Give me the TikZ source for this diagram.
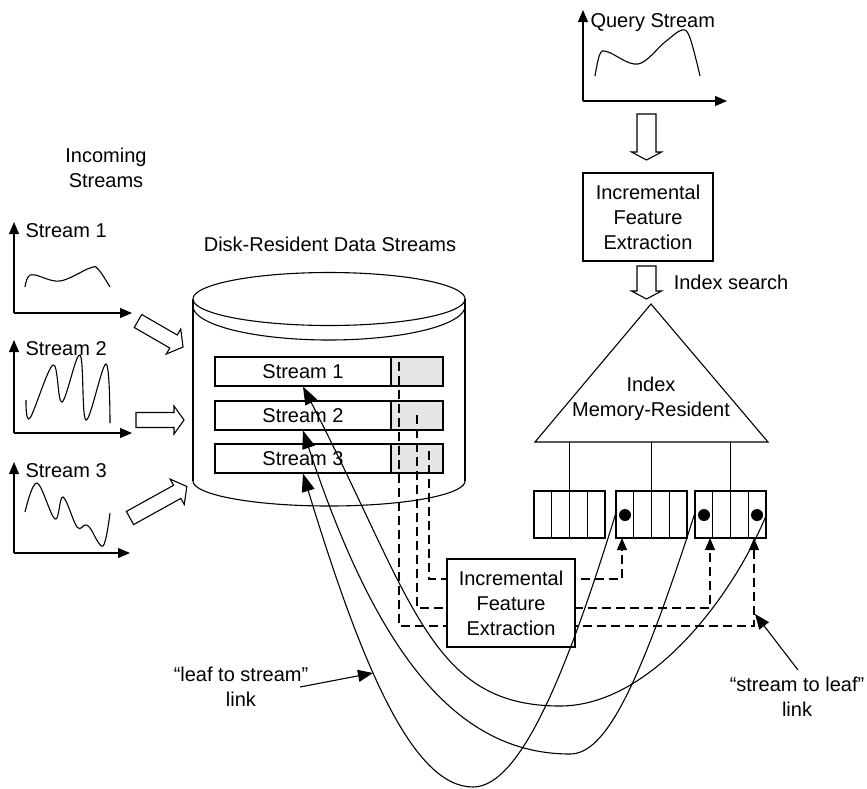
\documentclass[tikz,border=0pt]{standalone}
\usepackage{fontspec}
\setmainfont{Liberation Sans}
\usetikzlibrary{arrows.meta,calc}
\definecolor{cellgray}{HTML}{E6E6E6}
% hollow block arrow: tail point, angle, length, half shaft width, half head width, head length
\newcommand\hollowarrow[6]{%
  \draw[shift={#1}, rotate=#2]
    (0,-#4) -- ({#3-#6},-#4) -- ({#3-#6},-#5) -- (#3,0)
    -- ({#3-#6},#5) -- ({#3-#6},#4) -- (0,#4) -- cycle;}
\begin{document}
\begin{tikzpicture}[x=1pt, y=-1pt, line width=1.1pt,
  font=\fontsize{20}{25}\selectfont,
  every node/.style={inner sep=0pt},
  axisarrow/.style={-{Triangle[length=12pt,width=10pt]}},
  linkarrow/.style={-{Triangle[length=18pt,width=13pt]}},
  labelarrow/.style={-{Triangle[length=15pt,width=12pt]}},
  dasharrow/.style={dash pattern=on 9pt off 5pt, -{Triangle[length=12pt,width=10pt]}},
  streambox/.style={draw, minimum width=176pt, minimum height=29pt},
  graycell/.style={draw, fill=cellgray, minimum width=52pt, minimum height=29pt},
  leafbox/.style={draw, minimum width=71pt, minimum height=47pt},
  leafdot/.style={circle, fill, minimum size=12pt},
  featurebox/.style={draw, fill=white, align=center, minimum height=88pt},
  label/.style={align=center}]
\useasboundingbox (0,0) rectangle (867,788);

% ---------- incoming streams ----------
\coordinate (o1) at (14,313);
\draw[axisarrow] (o1) -- (14,222);
\draw[axisarrow] (o1) -- (132,313);
\node[anchor=base west] (lab1) at (25,237) {Stream 1};
\draw plot[smooth, tension=0.6] coordinates {(25,287) (28,277) (35,275) (60,281) (90,268) (98,269) (110,287)};

\coordinate (o2) at (14,433);
\draw[axisarrow] (o2) -- (14,340);
\draw[axisarrow] (o2) -- (132,433);
\node[anchor=base west] (lab2) at (25,355) {Stream 2};
\draw plot[smooth, tension=0.6] coordinates {(26,400) (30,418) (53,365) (62,402) (80,355) (86,420) (106,364) (110,423)};

\coordinate (o3) at (14,553);
\draw[axisarrow] (o3) -- (14,462);
\draw[axisarrow] (o3) -- (130,553);
\node[anchor=base west] (lab3) at (25,477) {Stream 3};
\draw plot[smooth, tension=0.6] coordinates {(25,512) (37,483) (55,519) (63,497) (77,527) (85,525) (90,528) (103,546) (110,513)};

\node[label] (incoming) at (106,168) {Incoming\\Streams};

% block arrows into the disk
\hollowarrow{(138,321)}{-30}{52}{7.5}{14.5}{11}
\hollowarrow{(136,420)}{0}{48}{7.5}{14}{10}
\hollowarrow{(130,518)}{29}{65}{7.5}{14.5}{11}

% ---------- disk ----------
\node (disklab) at (330,244) {Disk-Resident Data Streams};
\draw (193,299) -- (193,481);
\draw (465,299) -- (465,481);
\draw plot[domain=0:360, samples=120, smooth] ({329+136*cos(\x)}, {299+26.5*sin(\x)}) -- cycle;
\draw plot[domain=0:180, samples=60, smooth] ({329+136*cos(\x)}, {306+34*sin(\x)});
\draw plot[domain=0:180, samples=60, smooth] ({329+136*cos(\x)}, {481+25*sin(\x)});

\node[streambox] (s1) at (303,371.5) {Stream 1};
\node[graycell]  (g1) at (417,371.5) {};
\node[streambox] (s2) at (303,415.5) {Stream 2};
\node[graycell]  (g2) at (417,415.5) {};
\node[streambox] (s3) at (303,458.5) {Stream 3};
\node[graycell]  (g3) at (417,458.5) {};

% ---------- query side ----------
\coordinate (oq) at (583,101);
\draw[axisarrow] (oq) -- (583,10);
\draw[axisarrow] (oq) -- (727,101);
\node[anchor=base west] (qlab) at (590,27) {Query Stream};
\draw plot[smooth, tension=0.6] coordinates {(595,76) (600,54) (608,52) (638,64) (665,42) (682,30) (690,38) (700,76)};

\hollowarrow{(646.5,114)}{-90}{46}{9.5}{15}{8}
\node[featurebox, minimum width=130pt] (fq) at (648,217) {Incremental\\Feature\\Extraction};
\hollowarrow{(646.5,266)}{-90}{33}{9.5}{15}{8}
\node (search) at (731,282) {Index search};

% ---------- index ----------
\coordinate (apex) at (651,304);
\coordinate (bl) at (535,442);
\coordinate (br) at (768,442);
\draw (apex) -- (bl) -- (br) -- cycle;
\node[label] (idx) at (651,399) {Index\\Memory-Resident};

\node[leafbox] (leafA) at (569.5,514.5) {};
\node[leafbox] (leafB) at (651.5,514.5) {};
\node[leafbox] (leafC) at (730.5,514.5) {};
\foreach \b in {leafA,leafB,leafC}{
  \foreach \k in {1,2,3}
    \draw ($(\b.north west)!{\k/4}!(\b.north east)$) -- ($(\b.south west)!{\k/4}!(\b.south east)$);
  \draw (\b.north) -- (\b.north |- bl);
}
\node[leafdot] (dB)  at (625,515) {};
\node[leafdot] (dC1) at (704,515) {};
\node[leafdot] (dC2) at (757,515) {};

% ---------- stream to leaf (dashed) ----------
\coordinate (src1) at (399,362);
\coordinate (src2) at (417,415);
\coordinate (src3) at (429,451);
\coordinate (in1) at (754,538);
\coordinate (in2) at (710,538);
\coordinate (in3) at (622,538);
\draw[dasharrow] (src1) -- (399,626) -| (in1);
\draw[dasharrow] (src2) -- (417,608) -| (in2);
\draw[dasharrow] (src3) -- (429,579) -| (in3);

\node[featurebox, minimum width=128pt] (fl) at (511,603) {Incremental\\Feature\\Extraction};

% ---------- leaf to stream (solid) ----------
\coordinate (b1) at (473,787);
\coordinate (b2) at (570,754);
\coordinate (b3) at (560,706);
\draw[linkarrow] (leafB.west) .. controls (571,658) and (523,787) .. (b1)
  .. controls (413,787) and (362,667) .. (s3.south);
\draw[linkarrow] (leafC.west) .. controls (638,690) and (605,754) .. (b2)
  .. controls (455,754) and (376,651) .. (s2.south);
\draw[linkarrow] (leafC.east) .. controls (732,598) and (650,706) .. (b3)
  .. controls (430,706) and (414,602) .. (s1.south);

% ---------- annotations ----------
\node[label] (lts) at (241,687) {“leaf to stream”\\link};
\coordinate (ltsfrom) at (300,687);
\coordinate (ltsto) at (373,673);
\draw[labelarrow] (ltsfrom) -- (ltsto);

\node[label] (stl) at (797,697) {“stream to leaf”\\link};
\coordinate (stlfrom) at (798,670);
\coordinate (stlto) at (755,614);
\draw[labelarrow] (stlfrom) -- (stlto);
\end{tikzpicture}
\end{document}
